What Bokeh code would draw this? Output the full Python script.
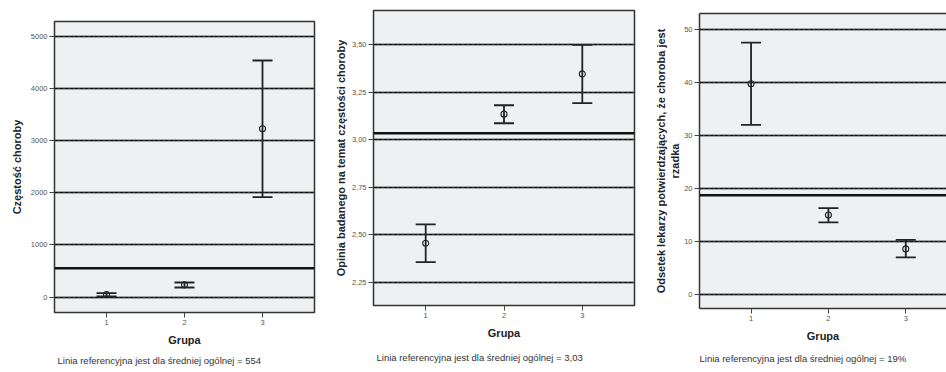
from bokeh.plotting import figure
from bokeh.models import FixedTicker, Span, Title, Grid, Range1d, LinearAxis
from bokeh.embed import file_html
from bokeh.resources import INLINE

# ---------------- data ----------------
groups = [1, 2, 3]
group_labels = ["1", "2", "3"]

freq_mean = [52, 237, 3226]
freq_low = [13, 186, 1916]
freq_high = [77, 282, 4534]
freq_ref = 554
freq_ticks = [0, 1000, 2000, 3000, 4000, 5000]
freq_tick_labels = ["0", "1000", "2000", "3000", "4000", "5000"]

opinion_mean = [2.455, 3.135, 3.347]
opinion_low = [2.355, 3.087, 3.193]
opinion_high = [2.554, 3.182, 3.500]
opinion_ref = 3.035
opinion_ticks = [2.25, 2.50, 2.75, 3.00, 3.25, 3.50]
opinion_tick_labels = ["2,25", "2,50", "2,75", "3,00", "3,25", "3,50"]

pct_mean = [39.75, 15.0, 8.6]
pct_low = [32.0, 13.6, 7.0]
pct_high = [47.5, 16.3, 10.3]
pct_ref = 18.7
pct_ticks = [0, 10, 20, 30, 40, 50]
pct_tick_labels = ["0", "10", "20", "30", "40", "50"]

x_title = "Grupa"
y_titles = [
    "Częstość choroby",
    "Opinia badanego na temat częstości choroby",
    "Odsetek lekarzy potwierdzających, że choroba jest\nrzadka",
]
notes = [
    "Linia referencyjna jest dla średniej ogólnej = 554",
    "Linia referencyjna jest dla średniej ogólnej = 3,03",
    "Linia referencyjna jest dla średniej ogólnej = 19%",
]

FONT = "Liberation Sans"
INK = "#222222"
FRAME = "#333333"
H = 372


def panel(left, width, borders, xr, yr, ticks, tick_labels, ylabel,
          means, lows, highs, ref, note, ystand, note_offset, note_standoff,
          open_right=False):
    p = figure(width=width, height=H, output_backend="svg",
               toolbar_location=None,
               x_range=Range1d(*xr), y_range=Range1d(*yr),
               min_border_left=borders[0], min_border_right=borders[1],
               min_border_top=borders[2], min_border_bottom=borders[3],
               styles={"position": "absolute", "left": f"{left}px", "top": "0px"})
    p.background_fill_color = "#eff0f1"
    p.border_fill_color = "white"

    p.xaxis.ticker = FixedTicker(ticks=groups)
    p.xaxis.major_label_overrides = {g: l for g, l in zip(groups, group_labels)}
    p.yaxis.ticker = FixedTicker(ticks=ticks)
    p.yaxis.major_label_overrides = {t: l for t, l in zip(ticks, tick_labels)}
    for ax in (p.xaxis, p.yaxis):
        ax.axis_line_color = None
        ax.minor_tick_line_color = None
        ax.major_tick_line_color = "#444444"
        ax.major_tick_line_width = 1
        ax.major_tick_out = 5
        ax.major_tick_in = 0
        ax.major_label_standoff = 2
        ax.major_label_text_font = FONT
        ax.major_label_text_font_size = "7.5px"
        ax.major_label_text_color = "#555555"
        ax.axis_label_text_font = FONT
        ax.axis_label_text_font_size = "11px"
        ax.axis_label_text_font_style = "bold"
        ax.axis_label_text_color = INK
    p.xaxis.axis_label = x_title
    p.xaxis.axis_label_standoff = 6
    p.yaxis.axis_label = ylabel
    p.yaxis.axis_label_standoff = ystand

    if open_right:
        # frame is cut at the right window edge: draw only left, bottom, top
        p.outline_line_color = None
        for ax in (p.xaxis, p.yaxis):
            ax.axis_line_color = FRAME
            ax.axis_line_width = 1.5
        top = LinearAxis(ticker=FixedTicker(ticks=[]), axis_line_color=FRAME,
                         axis_line_width=1.5, major_tick_line_color=None,
                         minor_tick_line_color=None,
                         major_label_text_color=None)
        p.add_layout(top, "above")
    else:
        p.outline_line_color = FRAME
        p.outline_line_width = 1.5

    p.xgrid.grid_line_color = None
    p.ygrid.grid_line_color = "#5a5a5a"
    p.ygrid.grid_line_width = 2.2
    p.add_layout(Grid(dimension=1, ticker=p.yaxis.ticker,
                      grid_line_color="#111111", grid_line_width=1.2,
                      grid_line_dash="4 1"))

    p.add_layout(Span(location=ref, dimension="width", line_color="#111111",
                      line_width=2.5))

    p.segment(x0=groups, y0=lows, x1=groups, y1=highs, line_color=INK,
              line_width=1.8)
    p.scatter(x=groups + groups, y=lows + highs, marker="dash", size=20,
              line_color=INK, line_width=1.8)
    p.scatter(x=groups, y=means, marker="circle", size=6, fill_color=None,
              line_color=INK, line_width=1.1)

    p.add_layout(Title(text=note, align="left", offset=note_offset,
                       standoff=note_standoff, text_font=FONT,
                       text_font_size="9.5px", text_font_style="normal",
                       text_color="#333333"), "below")
    return p


p1 = panel(0, 330, (54, 16, 21, 60), (1 / 3, 11 / 3), (-293, 5281),
           freq_ticks, freq_tick_labels, y_titles[0],
           freq_mean, freq_low, freq_high, freq_ref, notes[0], 5, 3, 9)
p2 = panel(330, 320, (43, 16, 10, 67), (1 / 3, 11 / 3), (2.127, 3.681),
           opinion_ticks, opinion_tick_labels, y_titles[1],
           opinion_mean, opinion_low, opinion_high, opinion_ref, notes[1], 2, 3, 16)
p3 = panel(650, 296, (49, 0, 13, 64), (1 / 3, 1 / 3 + 247 / 77.35), (-2.64, 53.0),
           pct_ticks, pct_tick_labels, y_titles[2],
           pct_mean, pct_low, pct_high, pct_ref, notes[2], 0, 0, 13,
           open_right=True)

open("out.html", "w").write(file_html([p1, p2, p3], INLINE))
